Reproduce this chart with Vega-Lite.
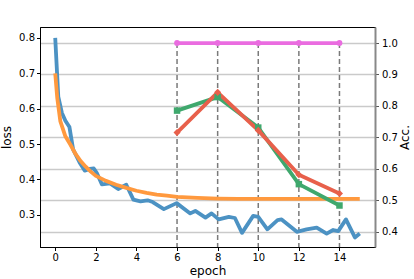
{
  "$schema": "https://vega.github.io/schema/vega-lite/v6.json",
  "width": 335,
  "height": 220,
  "autosize": {"type": "none"},
  "padding": {"left": 40, "top": 27, "right": 39, "bottom": 32},
  "config": {
    "font": "DejaVu Sans",
    "view": {"stroke": "black", "strokeWidth": 1},
    "axis": {
      "labelFont": "DejaVu Sans", "titleFont": "DejaVu Sans",
      "labelFontSize": 10, "titleFontSize": 12, "titleFontWeight": "normal",
      "labelColor": "black", "titleColor": "black",
      "tickColor": "black", "domainColor": "black", "tickSize": 3.5, "labelPadding": 2,
      "grid": false
    }
  },
  "datasets": {
    "loss": [
      {"epoch": 0.0, "series": "train", "value": 0.800},
      {"epoch": 0.15, "series": "train", "value": 0.634},
      {"epoch": 0.33, "series": "train", "value": 0.588},
      {"epoch": 0.5, "series": "train", "value": 0.566},
      {"epoch": 0.7, "series": "train", "value": 0.548},
      {"epoch": 0.88, "series": "train", "value": 0.485},
      {"epoch": 1.2, "series": "train", "value": 0.448},
      {"epoch": 1.45, "series": "train", "value": 0.425},
      {"epoch": 1.7, "series": "train", "value": 0.430},
      {"epoch": 1.9, "series": "train", "value": 0.431},
      {"epoch": 2.05, "series": "train", "value": 0.418},
      {"epoch": 2.3, "series": "train", "value": 0.386},
      {"epoch": 2.7, "series": "train", "value": 0.389},
      {"epoch": 3.1, "series": "train", "value": 0.373},
      {"epoch": 3.5, "series": "train", "value": 0.385},
      {"epoch": 3.85, "series": "train", "value": 0.343},
      {"epoch": 4.2, "series": "train", "value": 0.338},
      {"epoch": 4.55, "series": "train", "value": 0.341},
      {"epoch": 4.8, "series": "train", "value": 0.336},
      {"epoch": 5.35, "series": "train", "value": 0.316},
      {"epoch": 5.98, "series": "train", "value": 0.333},
      {"epoch": 6.65, "series": "train", "value": 0.304},
      {"epoch": 6.9, "series": "train", "value": 0.311},
      {"epoch": 7.4, "series": "train", "value": 0.292},
      {"epoch": 7.7, "series": "train", "value": 0.304},
      {"epoch": 8.05, "series": "train", "value": 0.287},
      {"epoch": 8.55, "series": "train", "value": 0.294},
      {"epoch": 8.85, "series": "train", "value": 0.291},
      {"epoch": 9.2, "series": "train", "value": 0.249},
      {"epoch": 9.75, "series": "train", "value": 0.297},
      {"epoch": 10.0, "series": "train", "value": 0.294},
      {"epoch": 10.45, "series": "train", "value": 0.259},
      {"epoch": 10.95, "series": "train", "value": 0.285},
      {"epoch": 11.15, "series": "train", "value": 0.287},
      {"epoch": 11.9, "series": "train", "value": 0.252},
      {"epoch": 12.38, "series": "train", "value": 0.259},
      {"epoch": 12.88, "series": "train", "value": 0.264},
      {"epoch": 13.37, "series": "train", "value": 0.247},
      {"epoch": 13.69, "series": "train", "value": 0.257},
      {"epoch": 13.94, "series": "train", "value": 0.254},
      {"epoch": 14.32, "series": "train", "value": 0.287},
      {"epoch": 14.76, "series": "train", "value": 0.236},
      {"epoch": 15.0, "series": "train", "value": 0.247},
      {"epoch": 0.0, "series": "smooth", "value": 0.700},
      {"epoch": 0.1, "series": "smooth", "value": 0.630},
      {"epoch": 0.25, "series": "smooth", "value": 0.565},
      {"epoch": 0.5, "series": "smooth", "value": 0.522},
      {"epoch": 0.75, "series": "smooth", "value": 0.498},
      {"epoch": 1.0, "series": "smooth", "value": 0.472},
      {"epoch": 1.25, "series": "smooth", "value": 0.452},
      {"epoch": 1.5, "series": "smooth", "value": 0.436},
      {"epoch": 1.75, "series": "smooth", "value": 0.422},
      {"epoch": 2.0, "series": "smooth", "value": 0.410},
      {"epoch": 2.5, "series": "smooth", "value": 0.396},
      {"epoch": 3.0, "series": "smooth", "value": 0.385},
      {"epoch": 3.5, "series": "smooth", "value": 0.376},
      {"epoch": 4.0, "series": "smooth", "value": 0.368},
      {"epoch": 4.5, "series": "smooth", "value": 0.362},
      {"epoch": 5.0, "series": "smooth", "value": 0.357},
      {"epoch": 5.5, "series": "smooth", "value": 0.354},
      {"epoch": 6.0, "series": "smooth", "value": 0.351},
      {"epoch": 7.0, "series": "smooth", "value": 0.348},
      {"epoch": 8.0, "series": "smooth", "value": 0.346},
      {"epoch": 9.0, "series": "smooth", "value": 0.345},
      {"epoch": 10.0, "series": "smooth", "value": 0.345},
      {"epoch": 11.0, "series": "smooth", "value": 0.345},
      {"epoch": 12.0, "series": "smooth", "value": 0.345},
      {"epoch": 13.0, "series": "smooth", "value": 0.345},
      {"epoch": 14.0, "series": "smooth", "value": 0.345},
      {"epoch": 15.0, "series": "smooth", "value": 0.345}
    ],
    "acc": [
      {"epoch": 6, "series": "top", "value": 1.0},
      {"epoch": 8, "series": "top", "value": 1.0},
      {"epoch": 10, "series": "top", "value": 1.0},
      {"epoch": 12, "series": "top", "value": 1.0},
      {"epoch": 14, "series": "top", "value": 1.0},
      {"epoch": 6, "series": "green", "value": 0.785},
      {"epoch": 8, "series": "green", "value": 0.828},
      {"epoch": 10, "series": "green", "value": 0.731},
      {"epoch": 12, "series": "green", "value": 0.551},
      {"epoch": 14, "series": "green", "value": 0.483},
      {"epoch": 6, "series": "red", "value": 0.715},
      {"epoch": 8, "series": "red", "value": 0.843},
      {"epoch": 10, "series": "red", "value": 0.722},
      {"epoch": 12, "series": "red", "value": 0.581},
      {"epoch": 14, "series": "red", "value": 0.521}
    ]
  },
  "layer": [
    {
      "data": {"name": "acc"},
      "transform": [{"filter": "datum.series === 'top'"}],
      "mark": {"type": "rule", "strokeDash": [5, 3], "color": "#7a7a7a", "strokeWidth": 1.5},
      "encoding": {
        "x": {"field": "epoch", "type": "quantitative", "scale": {"domain": [-0.75, 15.75], "nice": false, "zero": false}, "axis": {"values": [0, 2, 4, 6, 8, 10, 12, 14], "format": "d", "title": "epoch", "titlePadding": 3}},
        "y": {"field": "value", "type": "quantitative", "scale": {"domain": [0.351, 1.051], "nice": false, "zero": false}, "axis": null},
        "y2": {"datum": 0.351}
      }
    },
    {
      "data": {"name": "loss"},
      "mark": {"type": "line", "strokeWidth": 3.8, "strokeCap": "butt", "strokeJoin": "round"},
      "encoding": {
        "x": {"field": "epoch", "type": "quantitative", "scale": {"domain": [-0.75, 15.75], "nice": false, "zero": false}, "axis": {"values": [0, 2, 4, 6, 8, 10, 12, 14], "format": "d", "title": "epoch", "titlePadding": 3}},
        "y": {"field": "value", "type": "quantitative", "scale": {"domain": [0.209, 0.831], "nice": false, "zero": false}, "axis": {"orient": "left", "values": [0.3, 0.4, 0.5, 0.6, 0.7, 0.8], "format": ".1f", "title": "loss", "titlePadding": 5}},
        "color": {"field": "series", "type": "nominal", "scale": {"domain": ["train", "smooth", "top", "green", "red"], "range": ["#4c92c3", "#ff993e", "#ea6ce0", "#3fa86d", "#e8604b"]}, "legend": null}
      }
    },
    {
      "data": {"name": "acc"},
      "layer": [
        {
          "mark": {"type": "line", "strokeWidth": 3.8, "strokeJoin": "round"},
          "encoding": {
            "color": {"field": "series", "type": "nominal", "scale": {"domain": ["train", "smooth", "top", "green", "red"], "range": ["#4c92c3", "#ff993e", "#ea6ce0", "#3fa86d", "#e8604b"]}, "legend": null}
          }
        },
        {
          "mark": {"type": "point", "filled": true, "opacity": 1},
          "encoding": {
            "color": {"field": "series", "type": "nominal", "scale": {"domain": ["train", "smooth", "top", "green", "red"], "range": ["#4c92c3", "#ff993e", "#ea6ce0", "#3fa86d", "#e8604b"]}, "legend": null},
            "shape": {"field": "series", "type": "nominal", "scale": {"domain": ["top", "green", "red"], "range": ["circle", "square", "diamond"]}, "legend": null},
            "size": {"field": "series", "type": "nominal", "scale": {"domain": ["top", "green", "red"], "range": [34, 50, 80]}, "legend": null}
          }
        }
      ],
      "encoding": {
        "x": {"field": "epoch", "type": "quantitative", "scale": {"domain": [-0.75, 15.75], "nice": false, "zero": false}, "axis": {"values": [0, 2, 4, 6, 8, 10, 12, 14], "format": "d", "title": "epoch", "titlePadding": 3}},
        "y": {"field": "value", "type": "quantitative", "scale": {"domain": [0.351, 1.051], "nice": false, "zero": false}, "axis": {"orient": "right", "values": [0.4, 0.5, 0.6, 0.7, 0.8, 0.9, 1.0], "format": ".1f", "title": "Acc.", "titleAngle": -90, "titlePadding": 14, "grid": true, "gridColor": "#cacaca", "gridWidth": 1.5, "domainColor": "#888888", "domainWidth": 2, "tickColor": "#555555", "labelPadding": 3}}
      }
    }
  ],
  "resolve": {"scale": {"y": "independent"}, "axis": {"y": "independent"}}
}
